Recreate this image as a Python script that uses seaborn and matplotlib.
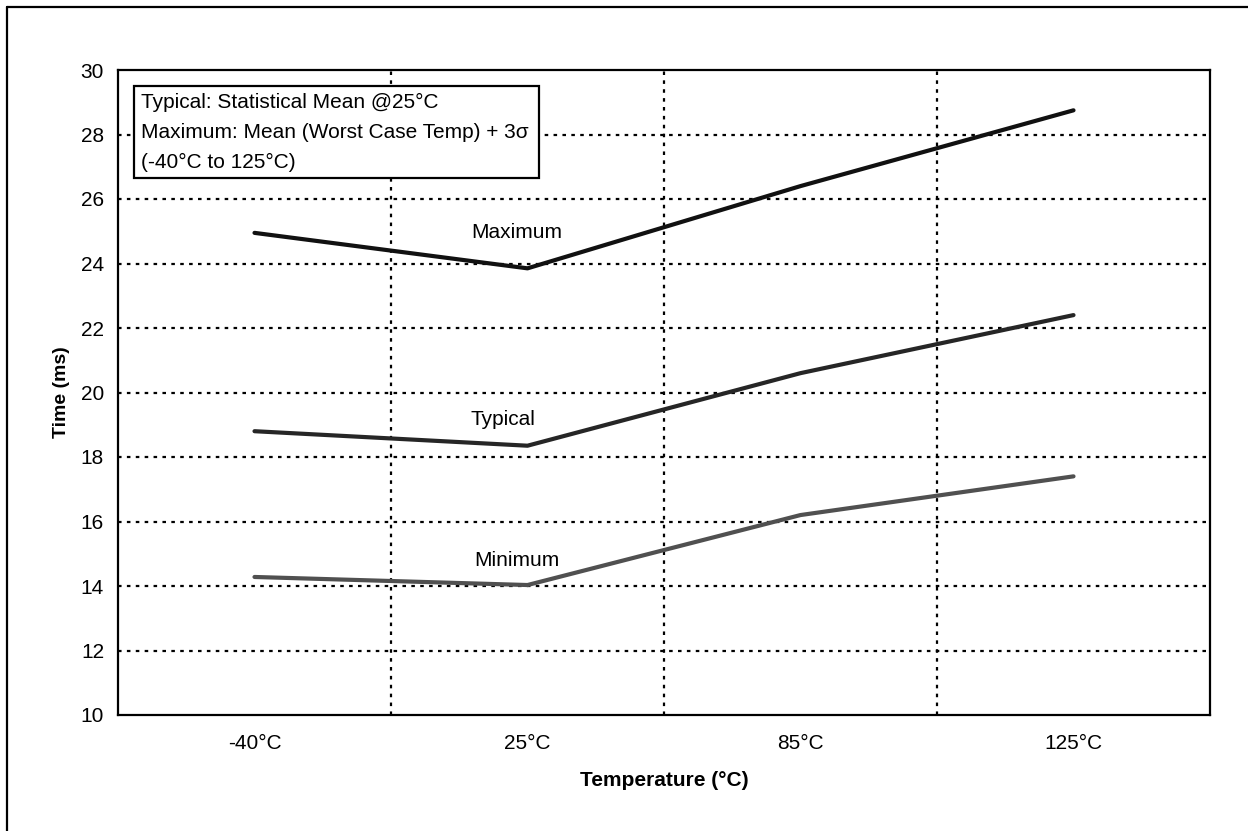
import pandas as pd
import numpy as np
import matplotlib.pyplot as plt
import matplotlib.patches as mpatches
import matplotlib.lines as mlines
import seaborn as sns

sns.set_style("white")
plt.rcParams['font.family'] = ['Liberation Sans', 'DejaVu Sans']
plt.rcParams['text.color'] = 'black'
plt.rcParams['axes.labelcolor'] = 'black'
plt.rcParams['xtick.color'] = 'black'
plt.rcParams['ytick.color'] = 'black'

# Dados
temperaturas = ['-40°C', '25°C', '85°C', '125°C']
maximo = [24.95, 23.85, 26.4, 28.75]
tipico = [18.8, 18.35, 20.6, 22.4]
minimo = [14.28, 14.03, 16.2, 17.4]
series = ['Maximum', 'Typical', 'Minimum']
cores = {'Maximum': '#111111', 'Typical': '#262626', 'Minimum': '#505050'}
y_ticks = list(range(10, 31, 2))

pos = np.arange(len(temperaturas))
dados = pd.DataFrame({
    'pos': np.tile(pos, 3),
    'valor': maximo + tipico + minimo,
    'serie': np.repeat(series, len(temperaturas)),
})

W, H = 1248, 831
fig = plt.figure(figsize=(W / 100, H / 100), dpi=100)
ax = fig.add_axes([118 / W, 1 - 715 / H, 1092 / W, 645 / H])

sns.lineplot(data=dados, x='pos', y='valor', hue='serie', palette=cores,
             linewidth=3, legend=False, ax=ax)

ax.set_xlim(-0.5, len(temperaturas) - 0.5)
ax.set_ylim(10, 30)
ax.set_xticks(pos)
ax.set_xticklabels(temperaturas)
ax.set_yticks(y_ticks)
ax.tick_params(axis='both', which='both', length=0, labelsize=15)
ax.tick_params(axis='x', pad=14)
ax.tick_params(axis='y', pad=10)

# Grade pontilhada
ax.grid(False)
for y in y_ticks[1:-1]:
    ax.axhline(y, color='black', lw=1.6, ls=(0, (1.6, 2.4)), zorder=0)
for x in pos[:-1] + 0.5:
    ax.axvline(x, color='black', lw=1.6, ls=(0, (1.6, 2.4)), zorder=0)

for s in ax.spines.values():
    s.set_linewidth(1.6)
    s.set_color('black')

ax.set_xlabel('Temperature (°C)', fontsize=15, fontweight='bold')
ax.set_ylabel('Time (ms)', fontsize=14, fontweight='bold')
ax.xaxis.set_label_coords(0.5, (715 - 780) / 645)
ax.xaxis.label.set_va('center')
ax.yaxis.set_label_coords((62 - 118) / 1092, 0.5)
ax.yaxis.label.set_va('center')

# Rótulos das séries
ax.text(0.96, 24.95, 'Maximum', fontsize=15, ha='center', va='center')
ax.text(0.91, 19.15, 'Typical', fontsize=15, ha='center', va='center')
ax.text(0.96, 14.8, 'Minimum', fontsize=15, ha='center', va='center')

# Caixa de notas
notas = ['Typical: Statistical Mean @25°C',
         'Maximum: Mean (Worst Case Temp) + 3σ',
         '(-40°C to 125°C)']
textos = []
for i, linha in enumerate(notas):
    textos.append(fig.text(141 / W, 1 - (102 + 30 * i) / H, linha, fontsize=15,
                           ha='left', va='center', zorder=6))
fig.canvas.draw()
renderer = fig.canvas.get_renderer()
direita = max(t.get_window_extent(renderer).x1 for t in textos) + 10
ax.add_patch(mpatches.Rectangle((134 / W, 1 - 178 / H), direita / W - 134 / W, 92 / H,
                                transform=fig.transFigure, facecolor='white',
                                edgecolor='black', lw=1.6, zorder=5))

# Borda externa
fig.add_artist(mlines.Line2D([7 / W, 7 / W], [0, 1 - 7 / H], color='black', lw=1.6))
fig.add_artist(mlines.Line2D([7 / W, 1], [1 - 7 / H, 1 - 7 / H], color='black', lw=1.6))

fig.savefig('out.png', dpi=100)
